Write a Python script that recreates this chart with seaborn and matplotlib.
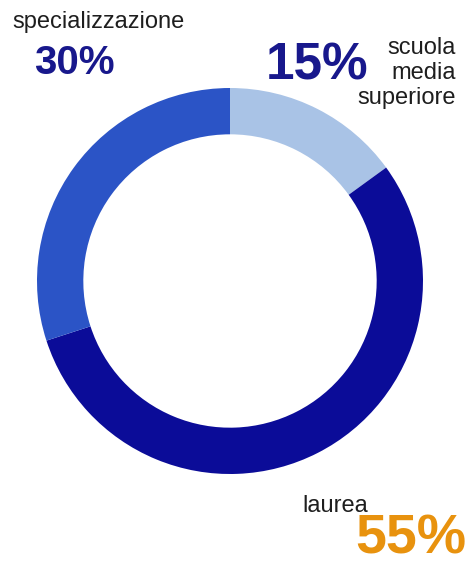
import matplotlib
matplotlib.use("Agg")
import matplotlib.pyplot as plt
import seaborn as sns

# Titolo di studio: quote percentuali
categories = ["scuola media superiore", "laurea", "specializzazione"]
shares = [15, 55, 30]
pct_labels = ["15%", "55%", "30%"]
colors = ["#a9c3e6", "#0b0c98", "#2b54c6"]

sns.set_theme(style="white")
plt.rcParams["font.family"] = ["Liberation Sans", "DejaVu Sans"]

W, H = 469, 568
fig = plt.figure(figsize=(W / 100, H / 100), dpi=100)
fig.patch.set_facecolor("white")

# ring centred at (230, 281) px, outer radius 193 px
cx, cy, r = 230, 281, 193
ax = fig.add_axes([(cx - r) / W, (H - cy - r) / H, 2 * r / W, 2 * r / H])
ax.pie(shares, colors=colors, startangle=90, counterclock=False,
       radius=1.0, wedgeprops=dict(width=0.24, linewidth=0))
ax.set_xlim(-1, 1)
ax.set_ylim(-1, 1)
ax.set_aspect("equal")
ax.axis("off")


def px(x, y):
    return x / W, 1 - y / H


label_color = "#1e1e1e"
navy = "#18188c"
orange = "#e8920e"

# specializzazione
fig.text(*px(12, 28), categories[2], fontsize=17, color=label_color,
         ha="left", va="baseline")
fig.text(*px(34, 74), pct_labels[2], fontsize=29, fontweight="bold",
         color=navy, ha="left", va="baseline")

# scuola media superiore
fig.text(*px(266, 80), pct_labels[0], fontsize=37, fontweight="bold",
         color=navy, ha="left", va="baseline")
for line, yb in zip(["scuola", "media", "superiore"], [54, 79, 104]):
    fig.text(*px(456, yb), line, fontsize=17, color=label_color,
             ha="right", va="baseline")

# laurea
fig.text(*px(302, 512), categories[1], fontsize=17, color=label_color,
         ha="left", va="baseline")
fig.text(*px(466, 566), pct_labels[1], fontsize=40, fontweight="bold",
         color=orange, ha="right", va="bottom")

fig.savefig("out.png", dpi=100, facecolor="white")
